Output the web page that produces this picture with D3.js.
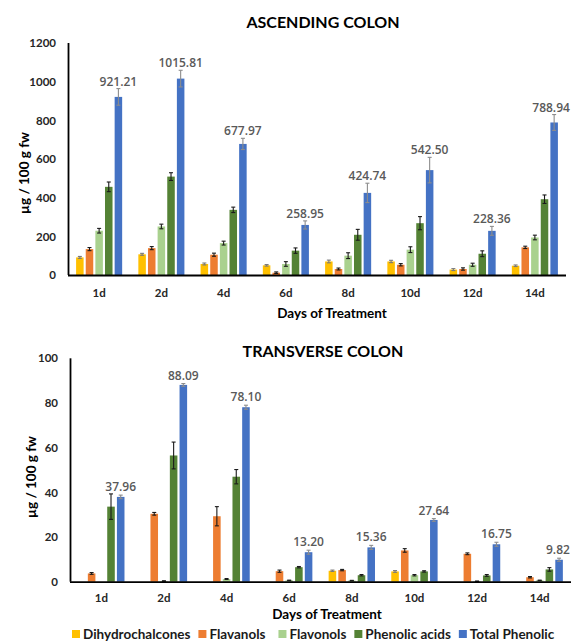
<!DOCTYPE html>
<html>
<head>
<meta charset="utf-8">
<script src="https://cdn.jsdelivr.net/npm/d3@7"></script>
<style>
  body { margin: 0; background: #fff; }
  text { font-family: Lato, "Open Sans", sans-serif; }
</style>
</head>
<body>
<script>
var days = ["1d", "2d", "4d", "6d", "8d", "10d", "12d", "14d"];
var series = ["Dihydrochalcones", "Flavanols", "Flavonols", "Phenolic acids", "Total Phenolic"];
var colors = ["#FFC000", "#ED7D31", "#A9D18E", "#548235", "#4472C4"];

// ascending colon, µg / 100 g fw
var ascDihydro   = [91, 107, 57, 50, 70, 70, 28, 48];
var ascFlavanols = [134, 139, 105, 12, 31, 53, 31, 143];
var ascFlavonols = [229, 251, 165, 57, 100, 131, 53, 194];
var ascPhenolic  = [456, 509, 337, 126, 208, 268, 110, 392];
var ascTotal     = [921.21, 1015.81, 677.97, 258.95, 424.74, 542.50, 228.36, 788.94];

var ascDihydroErr   = [5, 5, 5, 4, 7, 6, 5, 4];
var ascFlavanolsErr = [8, 8, 8, 4, 5, 6, 6, 6];
var ascFlavonolsErr = [12, 12, 10, 12, 15, 15, 8, 12];
var ascPhenolicErr  = [25, 20, 14, 14, 28, 34, 15, 22];
var ascTotalErr     = [43, 43, 29, 21, 50, 66, 23, 41];

// transverse colon, µg / 100 g fw
var trDihydro   = [0, 0, 0, 0, 4.9, 4.6, 0, 0];
var trFlavanols = [3.7, 30.4, 29.3, 4.7, 5.2, 14.0, 12.5, 2.0];
var trFlavonols = [0, 0.3, 1.2, 0.6, 0.5, 2.9, 0.2, 0.6];
var trPhenolic  = [33.6, 56.5, 47.0, 6.5, 2.9, 4.6, 2.8, 5.5];
var trTotal     = [37.96, 88.09, 78.10, 13.20, 15.36, 27.64, 16.75, 9.82];

var trDihydroErr   = [0, 0, 0, 0, 0.3, 0.4, 0, 0];
var trFlavanolsErr = [0.4, 0.6, 4.3, 0.5, 0.3, 0.8, 0.4, 0.3];
var trFlavonolsErr = [0, 0.1, 0.2, 0.1, 0.1, 0.3, 0.1, 0.1];
var trPhenolicErr  = [5.7, 6, 3.2, 0.3, 0.3, 0.3, 0.4, 0.8];
var trTotalErr     = [0.8, 0.6, 0.9, 0.9, 0.9, 0.6, 0.9, 0.7];

var yTicksAsc = [0, 200, 400, 600, 800, 1000, 1200];
var yTicksTr = [0, 20, 40, 60, 80, 100];

var width = 571,
    height = 641;

var svg = d3.select("body").append("svg")
    .attr("width", width)
    .attr("height", height);

function drawChart(c) {
  var g = svg.append("g");

  var x0 = d3.scaleBand()
      .domain(days)
      .range([c.left, c.right])
      .paddingInner(0.26)
      .paddingOuter(0.13);

  var x1 = d3.scaleBand()
      .domain(series)
      .range([0, x0.bandwidth()])
      .paddingInner(0.22);

  var y = d3.scaleLinear()
      .domain([0, c.yTicks[c.yTicks.length - 1]])
      .range([c.bottom, c.top]);

  // flatten to one record per bar
  var bars = [];
  days.forEach(function(day, i) {
    series.forEach(function(s, j) {
      bars.push({ day: day, series: s, j: j, value: c.values[j][i], err: c.errs[j][i] });
    });
  });

  g.append("g").selectAll("rect")
      .data(bars)
    .enter().append("rect")
      .attr("x", function(d) { return x0(d.day) + x1(d.series); })
      .attr("y", function(d) { return y(d.value); })
      .attr("width", x1.bandwidth())
      .attr("height", function(d) { return y(0) - y(d.value); })
      .attr("fill", function(d) { return colors[d.j]; });

  // error bars
  var eb = g.append("g").selectAll("g")
      .data(bars.filter(function(d) { return d.err > 0; }))
    .enter().append("g")
      .attr("stroke", function(d) { return d.j == 4 ? "#8c8c8c" : (d.j == 0 ? "#7a7a7a" : "#1a1a1a"); })
      .attr("stroke-width", 1.1)
      .attr("transform", function(d) { return "translate(" + (x0(d.day) + x1(d.series) + x1.bandwidth() / 2) + ",0)"; });

  eb.append("line")
      .attr("y1", function(d) { return y(d.value - d.err); })
      .attr("y2", function(d) { return y(d.value + d.err); });
  eb.append("line")
      .attr("x1", -2).attr("x2", 2)
      .attr("y1", function(d) { return y(d.value + d.err); })
      .attr("y2", function(d) { return y(d.value + d.err); });
  eb.append("line")
      .attr("x1", -2).attr("x2", 2)
      .attr("y1", function(d) { return y(d.value - d.err); })
      .attr("y2", function(d) { return y(d.value - d.err); });

  // totals labels
  g.append("g").selectAll("text")
      .data(bars.filter(function(d) { return d.j == 4; }))
    .enter().append("text")
      .attr("x", function(d) { return x0(d.day) + x1(d.series) + x1.bandwidth() / 2; })
      .attr("y", function(d) { return y(d.value + d.err) - c.labelGap; })
      .attr("text-anchor", "middle")
      .style("font-family", "'Open Sans', sans-serif")
      .style("font-size", "12px")
      .style("font-weight", "600")
      .attr("fill", "#595959")
      .text(function(d) { return d3.format(".2f")(d.value); })
      .each(function() {
        // keep the label inside the page
        var b = this.getBBox();
        if (b.x + b.width > width - 1) {
          d3.select(this).attr("x", +d3.select(this).attr("x") - (b.x + b.width - width + 1));
        }
      });

  // axes
  var yAxis = g.append("g")
      .attr("transform", "translate(" + c.left + ",0)")
      .call(d3.axisLeft(y).tickValues(c.yTicks).tickSize(0).tickPadding(12).tickFormat(d3.format("d")));
  var xAxis = g.append("g")
      .attr("transform", "translate(0," + c.bottom + ")")
      .call(d3.axisBottom(x0).tickSize(0).tickPadding(c.xPad));

  [yAxis, xAxis].forEach(function(a) {
    a.select(".domain").attr("stroke", "#000").attr("stroke-width", 1.8);
    a.selectAll("text")
        .style("font-family", "Lato, sans-serif")
        .style("font-size", "11.5px")
        .style("font-weight", "bold")
        .attr("fill", "#262626");
  });
  yAxis.select(".domain").attr("d", "M0.5," + c.bottom + "V" + c.top);
  xAxis.select(".domain").attr("d", "M" + c.left + ",0.5H" + c.right);

  g.append("text")
      .attr("x", c.titleX)
      .attr("y", c.titleY)
      .attr("text-anchor", "middle")
      .style("font-size", "16px")
      .style("font-weight", "bold")
      .attr("fill", "#000")
      .text(c.title);

  g.append("text")
      .attr("x", c.xTitleX)
      .attr("y", c.xTitleY)
      .attr("text-anchor", "middle")
      .style("font-size", "13.5px")
      .style("font-weight", "bold")
      .attr("fill", "#000")
      .text("Days of Treatment");

  g.append("text")
      .attr("transform", "translate(" + c.yTitleX + "," + c.yTitleY + ") rotate(-90)")
      .attr("text-anchor", "middle")
      .style("font-size", "13.5px")
      .style("font-weight", "bold")
      .attr("fill", "#000")
      .text("µg / 100 g fw");
}

drawChart({
  left: 68, right: 566, top: 43, bottom: 275,
  yTicks: yTicksAsc,
  values: [ascDihydro, ascFlavanols, ascFlavonols, ascPhenolic, ascTotal],
  errs: [ascDihydroErr, ascFlavanolsErr, ascFlavonolsErr, ascPhenolicErr, ascTotalErr],
  labelGap: 3, xPad: 13.5,
  title: "ASCENDING COLON", titleX: 323, titleY: 28,
  xTitleX: 332, xTitleY: 318,
  yTitleX: 29, yTitleY: 173
});

drawChart({
  left: 70, right: 571, top: 358.3, bottom: 581.7,
  yTicks: yTicksTr,
  values: [trDihydro, trFlavanols, trFlavonols, trPhenolic, trTotal],
  errs: [trDihydroErr, trFlavanolsErr, trFlavonolsErr, trPhenolicErr, trTotalErr],
  labelGap: 4, xPad: 12,
  title: "TRANSVERSE COLON", titleX: 323, titleY: 357,
  xTitleX: 327, xTitleY: 619,
  yTitleX: 36, yTitleY: 477
});

// legend
var legend = svg.append("g").attr("transform", "translate(72,634)");
var lx = 0;
series.forEach(function(s, i) {
  var item = legend.append("g").attr("transform", "translate(" + lx + ",0)");
  item.append("rect")
      .attr("x", 0).attr("y", -4)
      .attr("width", 8).attr("height", 8)
      .attr("fill", colors[i]);
  var t = item.append("text")
      .attr("x", 11)
      .attr("y", 5)
      .style("font-size", "13.5px")
      .style("font-weight", "bold")
      .attr("fill", "#1a1a1a")
      .text(s);
  lx += 11 + t.node().getComputedTextLength() + (i == 1 ? 13 : 8);
});
</script>
</body>
</html>
